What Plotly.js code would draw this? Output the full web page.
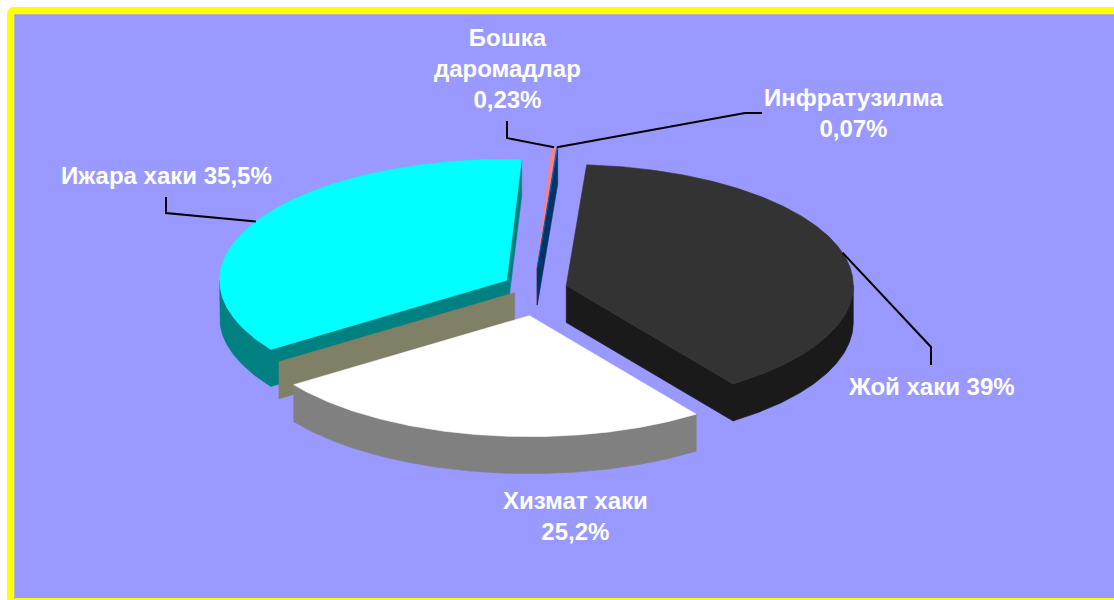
<!DOCTYPE html>
<html>
<head>
<meta charset="utf-8">
<script src="https://cdn.plot.ly/plotly-3.0.1.min.js"></script>
<style>
  html, body { margin:0; padding:0; background:#ffffff; overflow:hidden; }
  #page { position:relative; width:1114px; height:600px; overflow:hidden; background:#ffffff; }
  #frame { position:absolute; left:7px; top:7px; width:1107px; height:599px; box-sizing:border-box;
           border:8px solid #FFFF00; border-right:none; border-top-left-radius:7px; background:#9999FF; }
  #inner { position:absolute; left:14px; top:14px; width:1100px; height:585px; box-sizing:border-box;
           border-left:1px solid #B8B8C8; border-top:1px solid #B8B8C8; }
  #chart { position:absolute; left:0; top:0; width:1114px; height:600px; }
</style>
</head>
<body>
<div id="page">
<div id="frame"></div>
<div id="inner"></div>
<div id="chart"></div>
</div>
<script>
// ---- data ----
const categories = ['Бошка даромадлар', 'Инфратузилма', 'Жой хаки', 'Хизмат хаки', 'Ижара хаки'];
const values     = [0.23, 0.07, 39, 25.2, 35.5];
const valueLabels = ['0,23%', '0,07%', '39%', '25,2%', '35,5%'];
const labelTexts = ['Бошка<br>даромадлар<br>0,23%', 'Инфратузилма<br>0,07%', 'Жой хаки 39%', 'Хизмат хаки<br>25,2%', 'Ижара хаки 35,5%'];
const topColors  = ['#FF8080', '#0066CC', '#333333', '#FFFFFF', '#00FFFF'];
const sideColors = ['#8A4848', '#003366', '#1A1A1A', '#808080', '#008080'];

// ---- 3D pie geometry (layout, in plot pixel units) ----
const CX = 535, CY = 292, RX = 287, RY = 121, H = 37;
const EX = 32.5, EY = 24, START = 3;
const rad = d => d * Math.PI / 180;
const total = values.reduce((a, b) => a + b, 0);

let cum = START;
const slices = values.map((v, i) => {
  const a0 = cum, a1 = cum + v / total * 360; cum = a1;
  const m = (a0 + a1) / 2;
  const ox = EX * Math.sin(rad(m)), oy = -EY * Math.cos(rad(m));
  return { i, a0, a1, m, P: [CX + ox, CY + oy], ox, oy };
});

function rimAt(P, phi, dy) { return [P[0] + RX * Math.sin(rad(phi)), P[1] - RY * Math.cos(rad(phi)) + (dy || 0)]; }
function arc(P, a, b, dy) {
  const n = Math.max(2, Math.ceil(Math.abs(b - a) / 0.5));
  const pts = [];
  for (let k = 0; k <= n; k++) pts.push(rimAt(P, a + (b - a) * k / n, dy));
  return pts;
}
const traces = [];
function poly(pts, color) {
  pts = pts.concat([pts[0]]);
  traces.push({ type: 'scatter', mode: 'lines', x: pts.map(p => p[0]), y: pts.map(p => p[1]),
    fill: 'toself', fillcolor: color, line: { color: color, width: 0.6 }, hoverinfo: 'skip', showlegend: false });
}
function radialFace(P, phi, color) {
  const r = rimAt(P, phi), rb = rimAt(P, phi, H);
  poly([P, r, rb, [P[0], P[1] + H]], color);
}
function drawSlice(s) {
  const side = sideColors[s.i];
  const lo = Math.max(s.a0, 90), hi = Math.min(s.a1, 270);
  if (hi > lo) poly(arc(s.P, lo, hi, 0).concat(arc(s.P, hi, lo, H)), side);
  if (Math.sin(rad(s.a0)) < 0) radialFace(s.P, s.a0, side);
  if (Math.sin(rad(s.a1)) > 0) radialFace(s.P, s.a1, side);
  poly([s.P].concat(arc(s.P, s.a0, s.a1, 0)), topColors[s.i]);
}

// inner face seen in the gap between Хизмат хаки and Ижара хаки
const sW = slices[3], sC = slices[4];
const gap = { oy: 0.65 * sC.oy + 0.35 * sW.oy,
  P: [CX + 0.65 * sC.ox + 0.35 * sW.ox, CY + 0.65 * sC.oy + 0.35 * sW.oy], phi: sW.a1 };

const items = slices.map(s => ({ oy: s.oy, draw: () => drawSlice(s) }));
items.push({ oy: gap.oy, draw: () => radialFace(gap.P, gap.phi, '#808066') });
items.sort((a, b) => a.oy - b.oy).forEach(it => it.draw());

// ---- labels and leader lines ----
const labelPos = [ [507, 68], [854, 113], [931, 386], [575, 516], [166, 175] ];
const elbows = [ [[507, 121], [507, 138]], [[762, 113], [745, 113]], [[931, 365], [931, 347]], null, [[166, 197], [166, 213]] ];
elbows.forEach((e, i) => {
  if (!e) return;
  const a = rimAt(slices[i].P, slices[i].m);
  const pts = e.concat([a]);
  traces.push({ type: 'scatter', mode: 'lines', x: pts.map(p => p[0]), y: pts.map(p => p[1]),
    line: { color: '#000000', width: 2 }, hoverinfo: 'skip', showlegend: false });
});
const annotations = labelTexts.map((t, i) => ({
  x: labelPos[i][0], y: labelPos[i][1], xref: 'x', yref: 'y', text: '<b>' + t + '</b>',
  showarrow: false, xanchor: 'center', yanchor: 'middle', align: 'center',
  font: { family: 'Liberation Sans, Arial, sans-serif', size: 24, color: '#FFFFFF' }
}));

Plotly.newPlot('chart', traces, {
  width: 1114, height: 600, autosize: false,
  margin: { l: 0, r: 0, t: 0, b: 0, pad: 0 },
  paper_bgcolor: 'rgba(0,0,0,0)', plot_bgcolor: 'rgba(0,0,0,0)',
  xaxis: { range: [0, 1114], visible: false, fixedrange: true },
  yaxis: { range: [600, 0], visible: false, fixedrange: true },
  showlegend: false, hovermode: false, annotations: annotations
}, { staticPlot: true, displayModeBar: false });
</script>
</body>
</html>
